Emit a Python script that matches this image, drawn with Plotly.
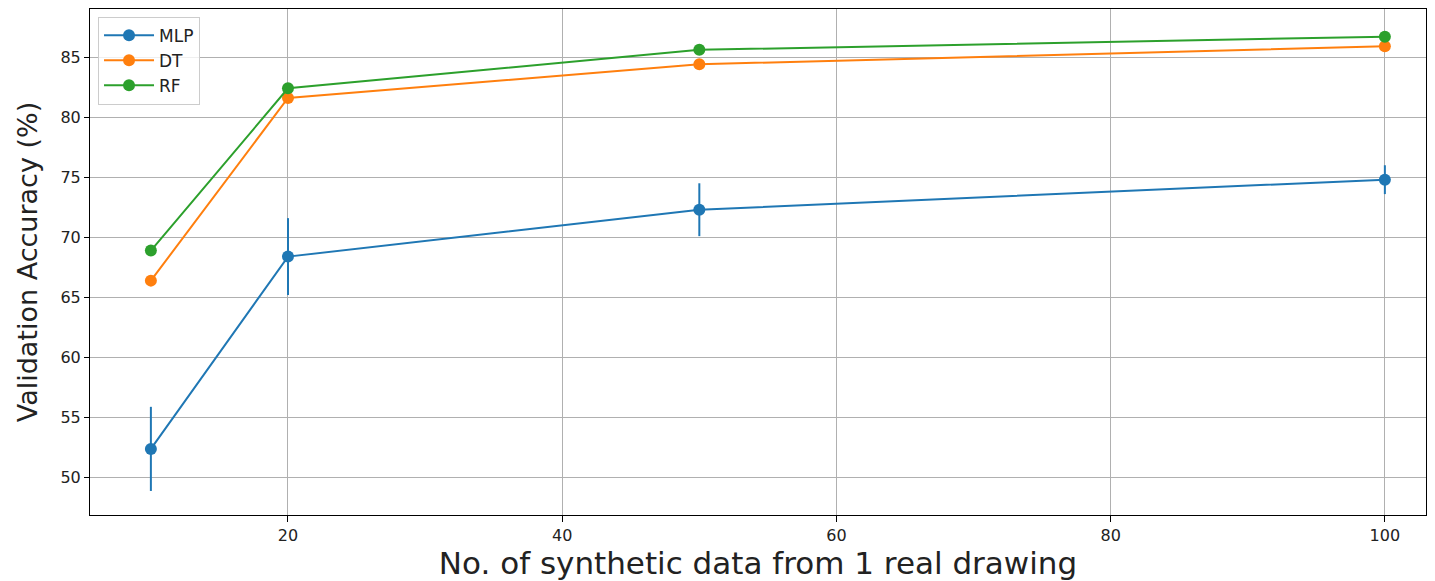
import plotly.graph_objects as go

x_vals = [10, 20, 50, 100]
mlp = [52.4, 68.4, 72.3, 74.8]
mlp_err = [3.5, 3.2, 2.2, 1.2]
dt = [66.4, 81.6, 84.4, 85.9]
dt_err = [0.3, 0.3, 0.3, 0.3]
rf = [68.9, 82.4, 85.6, 86.7]
rf_err = [0.3, 0.3, 0.3, 0.3]

series = [("MLP", mlp, mlp_err, "#1f77b4"),
          ("DT", dt, dt_err, "#ff7f0e"),
          ("RF", rf, rf_err, "#2ca02c")]

fig = go.Figure()
for name, ys, errs, col in series:
    fig.add_trace(go.Scatter(
        x=x_vals, y=ys, name=name, mode="lines+markers",
        line=dict(color=col, width=2),
        marker=dict(color=col, size=12),
        error_y=dict(type="data", array=errs, visible=True, color=col, thickness=2, width=0),
    ))

# page body adds an 8px margin; the figure is sized so the plot area lands where the reference has it
fig.update_layout(
    width=1419, height=573,
    margin=dict(l=82, r=1, t=1, b=66, autoexpand=False),
    paper_bgcolor="white", plot_bgcolor="white",
    font=dict(family="DejaVu Sans", color="#222"),
    showlegend=True,
    legend=dict(x=0.006, y=0.985, xanchor="left", yanchor="top",
                bgcolor="rgba(255,255,255,0.8)", bordercolor="#ccc", borderwidth=1,
                font=dict(size=17), itemwidth=50),
    xaxis=dict(range=[5.56, 103.0], tickvals=[20, 40, 60, 80, 100],
               showgrid=True, gridcolor="#b0b0b0", gridwidth=1,
               showline=True, linecolor="black", linewidth=1, mirror=True,
               ticks="outside", ticklen=6, tickcolor="black",
               tickfont=dict(size=16), automargin=False,
               title=dict(text="No. of synthetic data from 1 real drawing", font=dict(size=31), standoff=14),
               zeroline=False),
    yaxis=dict(range=[46.9, 89.0], tickvals=[50, 55, 60, 65, 70, 75, 80, 85],
               showgrid=True, gridcolor="#b0b0b0", gridwidth=1,
               showline=True, linecolor="black", linewidth=1, mirror=True,
               ticks="outside", ticklen=5, tickcolor="black",
               tickfont=dict(size=16), automargin=False,
               title=dict(text="Validation Accuracy (%)", font=dict(size=27), standoff=14),
               zeroline=False),
)

fig.write_html("out.html")
